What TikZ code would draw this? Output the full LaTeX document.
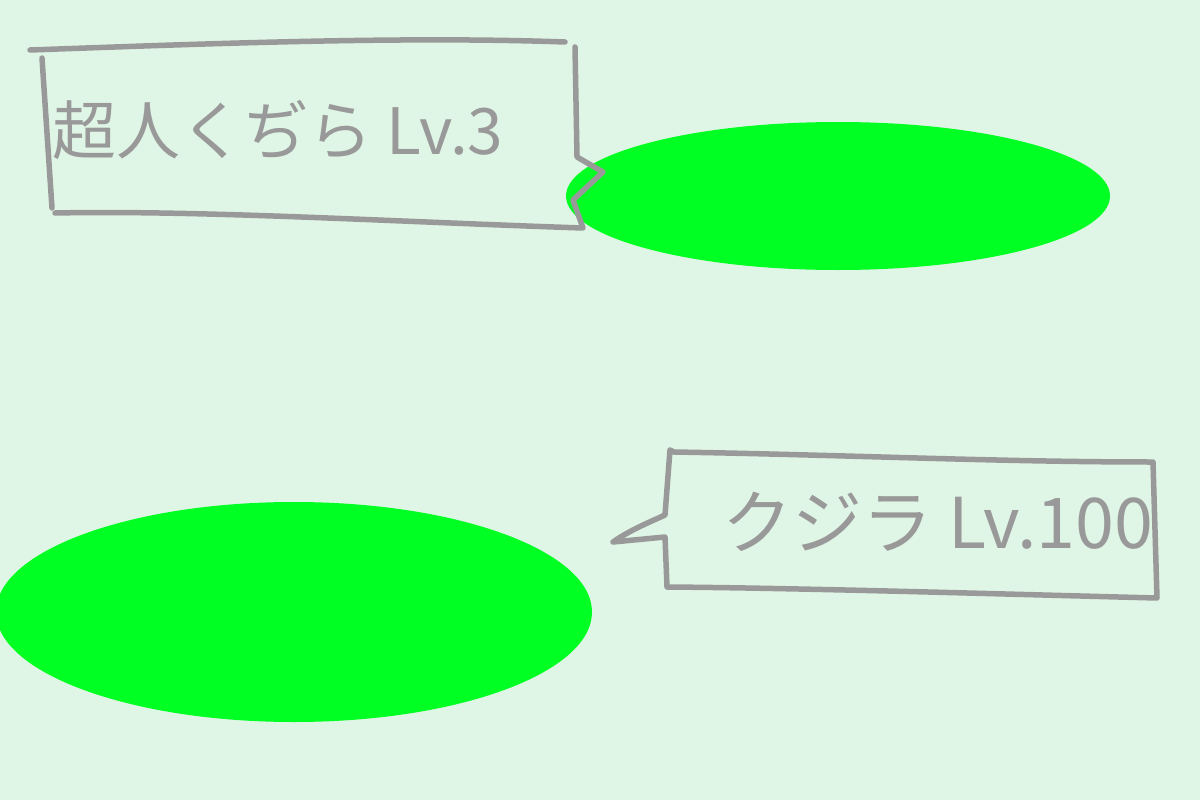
\documentclass[tikz,border=0pt]{standalone}
\usepackage{fontspec}
\newfontfamily\jpfont{Noto Sans CJK JP}
\definecolor{bg}{HTML}{DFF5E5}
\definecolor{whale}{HTML}{00FF22}
\definecolor{pen}{HTML}{999999}
\tikzset{
  penline/.style={draw=pen, line width=5.5pt, line cap=round, line join=round},
  label/.style={text=pen, font=\jpfont\fontsize{64}{70}\selectfont, inner sep=0pt, anchor=center}
}
\begin{document}
\begin{tikzpicture}[x=1pt,y=-1pt]
\fill[bg] (0,0) rectangle (1200,800);
\useasboundingbox (0,0) rectangle (1200,800);
% whales
\fill[whale] (838,196) ellipse [x radius=272, y radius=74];
\node (w1) at (838,196) {};
\fill[whale] (294,612) ellipse [x radius=298, y radius=110];
\node (w2) at (294,612) {};
% top speech box
\coordinate (t1) at (30,50);
\coordinate (t2) at (565,42);
\coordinate (t3) at (575,47);
\coordinate (t4) at (577,157);
\coordinate (t5) at (603,172);
\coordinate (t6) at (573,200);
\coordinate (t7) at (583,228);
\coordinate (t8) at (55,213);
\coordinate (t9) at (42,58);
\coordinate (t10) at (52,208);
\draw[penline] (t1) .. controls (200,44) and (400,36) .. (t2);
\draw[penline] (t3) -- (t4) -- (t5) -- (t6) -- (t7) .. controls (400,222) and (200,210) .. (t8);
\draw[penline] (t9) -- (t10);
\node[label] (l1) at (278,130) {超人くぢら Lv.3};
% bottom speech box
\coordinate (b1) at (670,450);
\coordinate (b2) at (1153,462);
\coordinate (b3) at (1157,598);
\coordinate (b4) at (667,587);
\coordinate (b5) at (665,537);
\coordinate (b6) at (613,542);
\coordinate (b7) at (665,515);
\draw[penline] (b1) -- (674,452) .. controls (850,455) and (1000,462) .. (b2) -- (b3) .. controls (1000,594) and (800,588) .. (b4) -- (b5) -- (b6) .. controls (630,530) and (650,522) .. (b7) -- (b1);
\node[label, font=\jpfont\fontsize{70}{76}\selectfont] (l2) at (938,522) {クジラ Lv.100};
\end{tikzpicture}
\end{document}
